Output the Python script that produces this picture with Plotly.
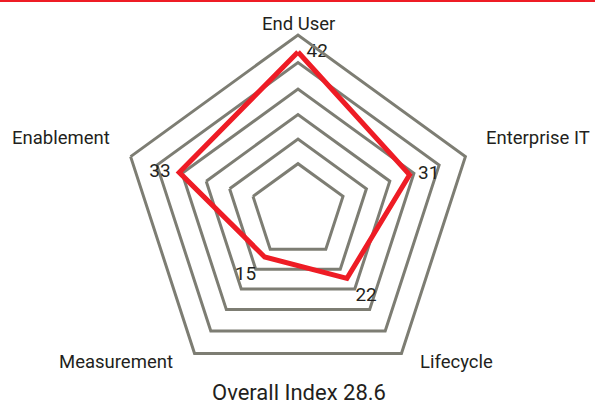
import plotly.graph_objects as go

categories = ["End User", "Enterprise IT", "Lifecycle", "Measurement", "Enablement"]
values = [42, 31, 22, 15, 33]
value_labels = ["42", "31", "22", "15", "33"]
overall_index = 28.6

W, H = 595, 407
GRAY = "#7d7d73"
RED = "#ee1c25"
TXT = "#231f20"
FONT = "Roboto, 'Noto Sans', sans-serif"

cx, cy, R = 298, 211, 176

fig = go.Figure()

theta_closed = categories + [categories[0]]
r_closed = values + [values[0]]

fig.add_trace(go.Scatterpolar(
    r=r_closed, theta=theta_closed, mode="lines",
    line=dict(color=RED, width=5), hoverinfo="skip", showlegend=False,
))

fig.add_trace(go.Scatterpolar(
    r=values, theta=categories, mode="markers+text", text=value_labels,
    marker=dict(size=12, color="rgba(0,0,0,0)"),
    textposition=["middle right", "middle right", "bottom right", "bottom left", "middle left"],
    textfont=dict(family=FONT, size=19, color=TXT),
    hoverinfo="skip", showlegend=False,
))

fig.update_layout(
    width=W, height=H,
    margin=dict(l=0, r=0, t=0, b=0),
    paper_bgcolor="white",
    plot_bgcolor="white",
    polar=dict(
        domain=dict(x=[(cx - R) / W, (cx + R) / W], y=[1 - (cy + R) / H, 1 - (cy - R) / H]),
        bgcolor="white",
        gridshape="linear",
        radialaxis=dict(
            range=[0, 46.5], tickvals=[12.5, 19, 25.5, 32.2, 39.2],
            showticklabels=False, ticks="", showline=False,
            gridcolor=GRAY, gridwidth=3,
        ),
        angularaxis=dict(
            rotation=90, direction="clockwise",
            showticklabels=False, ticks="", showgrid=False,
            showline=True, linecolor=GRAY, linewidth=3,
        ),
    ),
    shapes=[dict(type="line", xref="paper", yref="paper", x0=0, x1=1,
                 y0=1 - 1 / H, y1=1 - 1 / H, line=dict(color=RED, width=2))],
)

label_pos = [(298, 24), (538, 138), (456, 362), (116, 362), (61, 138)]
for name, (px, py) in zip(categories, label_pos):
    fig.add_annotation(x=px / W, y=1 - py / H, xref="paper", yref="paper",
                       text=name, showarrow=False, xanchor="center", yanchor="middle",
                       font=dict(family=FONT, size=18.5, color=TXT))

fig.add_annotation(x=299 / W, y=0.002, xref="paper", yref="paper",
                   text=f"Overall Index {overall_index}", showarrow=False,
                   xanchor="center", yanchor="bottom", borderpad=0,
                   font=dict(family=FONT, size=22, color=TXT))

fig.write_html("out.html", config={"displayModeBar": False},
               post_script="document.body.style.margin='0px';document.body.style.overflow='hidden';")
